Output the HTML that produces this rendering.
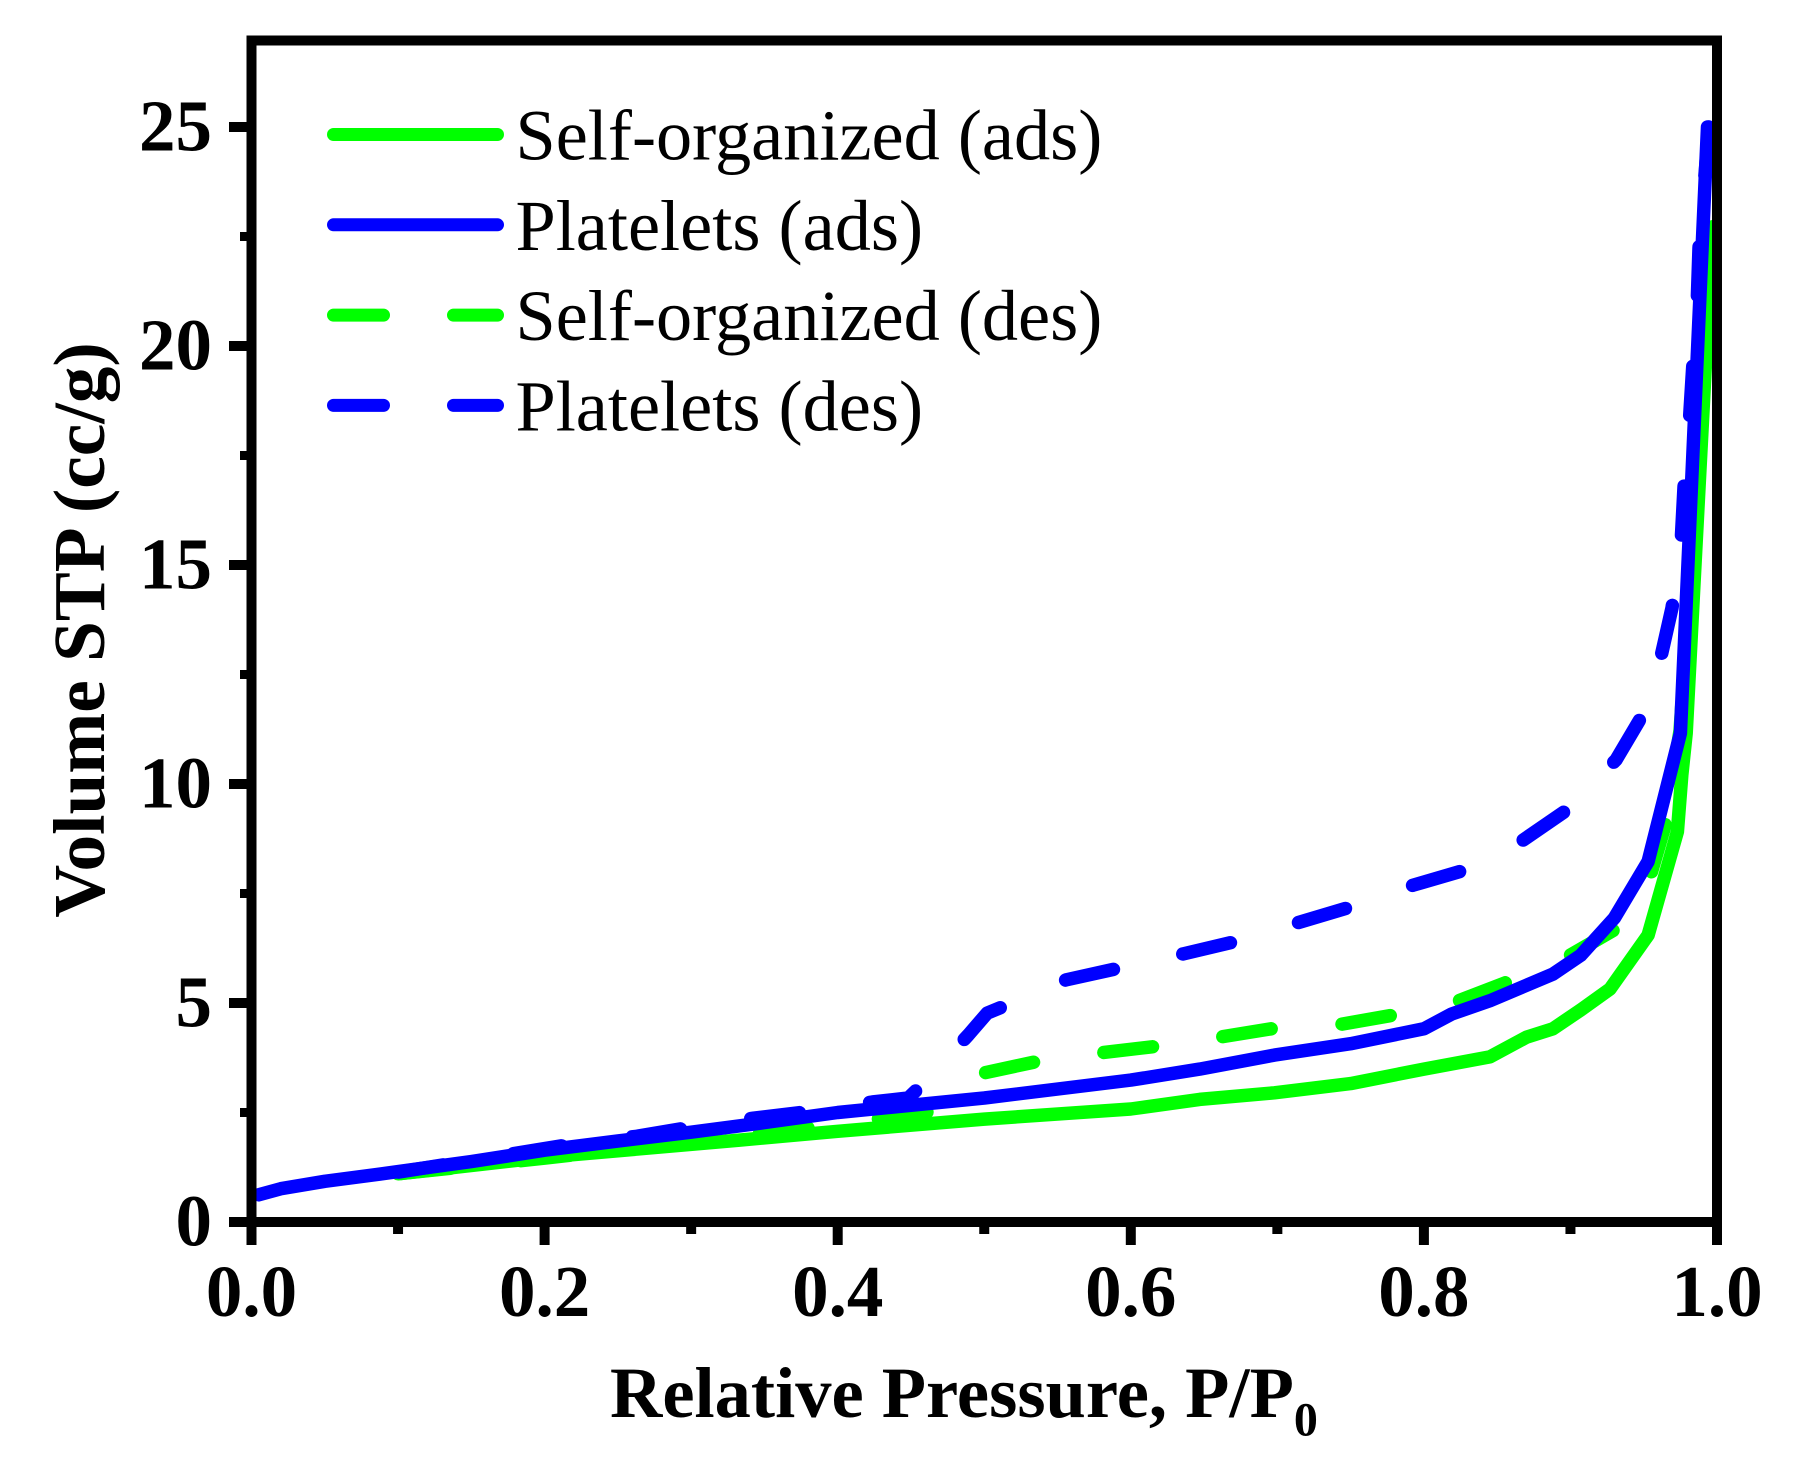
<!DOCTYPE html>
<html lang="en">
<head>
<meta charset="utf-8">
<title>Isotherm chart</title>
<style>
html,body{margin:0;padding:0;background:#fff;}
svg{display:block;}
text{font-family:"Liberation Serif",serif;fill:#000;}
.b{font-weight:bold;}
</style>
</head>
<body>
<svg id="chart" xmlns="http://www.w3.org/2000/svg" width="1807" height="1457" viewBox="0 0 1807 1457">
<rect x="0" y="0" width="1807" height="1457" fill="#fff"/>
<g id="series"></g>
<g id="axes"></g>
<g id="legend"></g>
<text class="b" x="610" y="1417" font-size="72.5">Relative Pressure, P/P<tspan font-size="48" dy="18.5">0</tspan></text>
<text class="b" x="0" y="0" font-size="73.3" text-anchor="middle" transform="translate(104,630) rotate(-90)">Volume STP (cc/g)</text>
</svg>
<script>
const xTickValues = [0, 0.2, 0.4, 0.6, 0.8, 1.0];
const xTickLabels = ["0.0", "0.2", "0.4", "0.6", "0.8", "1.0"];
const xMinorValues = [0.1, 0.3, 0.5, 0.7, 0.9];
const yTickValues = [0, 5, 10, 15, 20, 25];
const yTickLabels = ["0", "5", "10", "15", "20", "25"];
const yMinorValues = [2.5, 7.5, 12.5, 17.5, 22.5];

const selfAdsX = [0.1, 0.2, 0.333, 0.4, 0.5, 0.6, 0.647, 0.698, 0.75, 0.8, 0.845, 0.87, 0.888, 0.907, 0.927, 0.953, 0.973, 0.976, 0.979, 0.997];
const selfAdsY = [1.1, 1.48, 1.87, 2.07, 2.35, 2.58, 2.8, 2.95, 3.16, 3.49, 3.77, 4.22, 4.41, 4.84, 5.32, 6.55, 8.91, 10.2, 11.16, 22.72];

const plateletsAdsX = [0.005, 0.02, 0.05, 0.08, 0.1, 0.15, 0.2, 0.25, 0.3, 0.35, 0.4, 0.5, 0.6, 0.647, 0.698, 0.75, 0.8, 0.819, 0.845, 0.888, 0.907, 0.93, 0.953, 0.975, 0.9935];
const plateletsAdsY = [0.62, 0.76, 0.93, 1.06, 1.15, 1.38, 1.64, 1.85, 2.05, 2.27, 2.5, 2.83, 3.24, 3.49, 3.81, 4.07, 4.41, 4.75, 5.05, 5.66, 6.09, 6.94, 8.23, 11.16, 25.0];

const selfDesX = [0.997, 0.9884, 0.9816, 0.9748, 0.9646, 0.9543, 0.9318, 0.8977, 0.8554, 0.8213, 0.7769, 0.7411, 0.6958, 0.6603, 0.6146, 0.5791, 0.5341, 0.4993, 0.4611, 0.4222, 0.3813, 0.3404, 0.2722, 0.2005, 0.1003];
const selfDesY = [22.72, 18.77, 14.66, 11.23, 9.06, 7.88, 6.71, 6.05, 5.46, 5.02, 4.71, 4.5, 4.41, 4.22, 4.0, 3.86, 3.65, 3.4, 2.51, 2.33, 2.15, 1.99, 1.74, 1.46, 1.1];

const plateletsDesX = [0.9945, 0.9877, 0.9864, 0.9834, 0.9809, 0.9775, 0.9754, 0.9693, 0.9616, 0.9486, 0.9311, 0.8968, 0.8677, 0.8254, 0.7926, 0.7476, 0.7156, 0.6698, 0.6357, 0.59, 0.556, 0.5136, 0.502, 0.4891, 0.4575, 0.4482, 0.4236, 0.3772, 0.3424, 0.2974, 0.2633, 0.2156, 0.1003];
const plateletsDesY = [25.0, 22.24, 20.94, 19.52, 18.15, 16.78, 15.43, 14.02, 12.88, 11.54, 10.55, 9.39, 8.72, 8.01, 7.69, 7.17, 6.85, 6.39, 6.12, 5.78, 5.53, 4.93, 4.77, 4.27, 3.13, 2.83, 2.74, 2.51, 2.37, 2.15, 1.96, 1.76, 1.14];

const legendLabels = ["Self-organized (ads)", "Platelets (ads)", "Self-organized (des)", "Platelets (des)"];

const NS = "http://www.w3.org/2000/svg";
const GREEN = "#00ff00";
const BLUE = "#0000ff";
function xScale(v) { return 251.5 + v * 1465.5; }
function yScale(v) { return 1222 - v * 43.8; }

function make(tag, parent, attrs) {
  const el = document.createElementNS(NS, tag);
  for (const k in attrs) el.setAttribute(k, attrs[k]);
  parent.appendChild(el);
  return el;
}
function pathFrom(xs, ys) {
  return xs.map(function (x, i) {
    return (i ? "L" : "M") + xScale(x).toFixed(1) + " " + yScale(ys[i]).toFixed(1);
  }).join(" ");
}

const seriesGroup = document.getElementById("series");
const axesGroup = document.getElementById("axes");
const legendGroup = document.getElementById("legend");

function drawSeries(name, xs, ys, color, dashed) {
  const p = make("path", seriesGroup, {
    d: pathFrom(xs, ys), fill: "none", stroke: color, "stroke-width": 13.5,
    "stroke-linecap": "round", "stroke-linejoin": "round"
  });
  if (dashed) p.setAttribute("stroke-dasharray", "49 71");
  
  
}
drawSeries("self-organized-ads-line", selfAdsX, selfAdsY, GREEN, false);
drawSeries("self-organized-des-line", selfDesX, selfDesY, GREEN, true);
drawSeries("platelets-des-line", plateletsDesX, plateletsDesY, BLUE, true);
drawSeries("platelets-ads-line", plateletsAdsX, plateletsAdsY, BLUE, false);

// frame
const frame = make("path", axesGroup, {
  d: "M251.5 1245 V40.5 H1717 V1245 M229 1222 H1717",
  fill: "none", stroke: "#000", "stroke-width": 10
});



// x ticks
xTickValues.forEach(function (v, i) {
  const t = make("line", axesGroup, { x1: xScale(v), x2: xScale(v), y1: 1222, y2: 1245, stroke: "#000", "stroke-width": 10 });
  
  
  const l = make("text", axesGroup, { x: xScale(v), y: 1316, "font-size": 73, "text-anchor": "middle", "class": "b" });
  l.textContent = xTickLabels[i];
  
  
});
xMinorValues.forEach(function (v) {
  const t = make("line", axesGroup, { x1: xScale(v), x2: xScale(v), y1: 1222, y2: 1234, stroke: "#000", "stroke-width": 10 });
  
  
});

// y ticks
yTickValues.forEach(function (v, i) {
  const t = make("line", axesGroup, { x1: 229, x2: 251.5, y1: yScale(v), y2: yScale(v), stroke: "#000", "stroke-width": 10 });
  
  
  const l = make("text", axesGroup, { x: 212, y: yScale(v) + 23.5, "font-size": 73, "text-anchor": "end", "class": "b" });
  l.textContent = yTickLabels[i];
  
  
});
yMinorValues.forEach(function (v) {
  const t = make("line", axesGroup, { x1: 240, x2: 251.5, y1: yScale(v), y2: yScale(v), stroke: "#000", "stroke-width": 9 });
  
  
});

// legend
const legendColors = [GREEN, BLUE, GREEN, BLUE];
const legendDashed = [false, false, true, true];
legendLabels.forEach(function (label, i) {
  const cy = 134.5 + i * 90.3;
  const entry = make("g", legendGroup, {});
  
  
  const ln = make("path", entry, {
    d: legendDashed[i] ? "M333.5 " + cy + " H383.5 M453.5 " + cy + " H497.5" : "M333.5 " + cy + " H497.5",
    fill: "none", stroke: legendColors[i], "stroke-width": 13, "stroke-linecap": "round"
  });
  
  
  const tx = make("text", entry, { x: 515.5, y: cy + 25, "font-size": 72.3 });
  tx.textContent = label;
  
  
});
</script>
</body>
</html>
